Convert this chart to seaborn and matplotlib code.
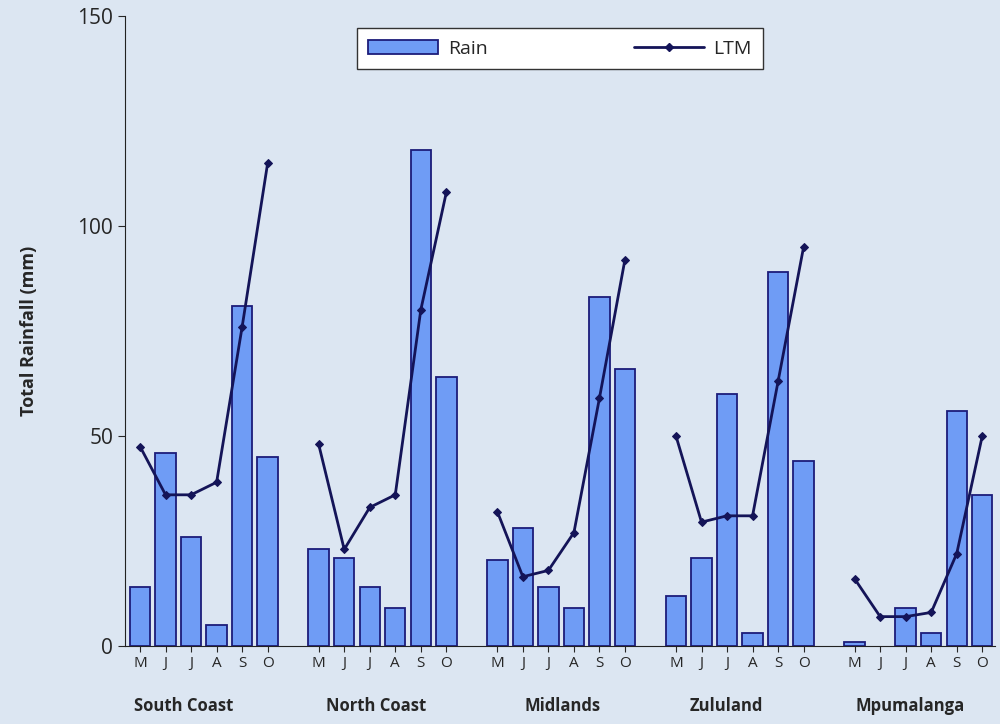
import numpy as np
import pandas as pd
import matplotlib
matplotlib.use('Agg')
import matplotlib.pyplot as plt
from matplotlib.lines import Line2D
from matplotlib.patches import Patch
from matplotlib.transforms import blended_transform_factory
import seaborn as sns

regions = ['South Coast', 'North Coast', 'Midlands', 'Zululand', 'Mpumalanga']
months = ['M', 'J', 'J', 'A', 'S', 'O']
rain = [
    [14, 46, 26, 5, 81, 45],
    [23, 21, 14, 9, 118, 64],
    [20.5, 28, 14, 9, 83, 66],
    [12, 21, 60, 3, 89, 44],
    [1, 0, 9, 3, 56, 36],
]
ltm = [
    [47.5, 36, 36, 39, 76, 115],
    [48, 23, 33, 36, 80, 108],
    [32, 16.5, 18, 27, 59, 92],
    [50, 29.5, 31, 31, 63, 95],
    [16, 7, 7, 8, 22, 50],
]

rows = []
for g, reg in enumerate(regions):
    for m, mon in enumerate(months):
        rows.append({'region': reg, 'month': mon, 'pos': g * 7 + m,
                     'rain': rain[g][m], 'ltm': ltm[g][m]})
df = pd.DataFrame(rows)

bg = '#dce6f2'
bar_c = '#6f9cf5'
edge_c = '#1c1c7a'
line_c = '#141458'

sns.set_style('white')
plt.rcParams['font.family'] = ['Open Sans', 'DejaVu Sans']

fig = plt.figure(figsize=(10, 7.24), dpi=100, facecolor=bg)
ax = fig.add_axes([0.125, 0.1077, 0.87, 0.8702])
ax.set_facecolor(bg)

sns.barplot(data=df, x='pos', y='rain', native_scale=True, width=0.8,
            color=bar_c, edgecolor=edge_c, linewidth=1.3, saturation=1, ax=ax)
for p in ax.patches:
    if p.get_height() == 0:
        p.set_visible(False)
for reg in regions:
    sns.lineplot(data=df[df.region == reg], x='pos', y='ltm', color=line_c,
                 marker='D', markersize=4.5, markeredgecolor=line_c,
                 linewidth=2, ax=ax)

ax.set_xlim(-0.59, 33.5)
ax.set_ylim(0, 150)
ax.set_yticks([0, 50, 100, 150])
ax.tick_params(axis='y', labelsize=15, length=5, direction='out', left=True)
ax.set_xticks(df['pos'])
ax.set_xticklabels(df['month'], fontsize=11)
ax.tick_params(axis='x', length=4, direction='out', bottom=True, pad=3)
ax.set_xlabel('')
ax.set_ylabel('Total Rainfall (mm)', fontsize=13, fontweight='bold', labelpad=28)
for s in ['top', 'right']:
    ax.spines[s].set_visible(False)
for s in ['left', 'bottom']:
    ax.spines[s].set_color('#222222')

tr = blended_transform_factory(ax.transData, ax.transAxes)
label_pos = [1.7, 9.25, 16.55, 22.97, 30.17]
for reg, xp in zip(regions, label_pos):
    ax.text(xp, -0.095, reg, transform=tr, ha='center', va='center',
            fontsize=12, fontweight='bold')

handles = [Patch(facecolor=bar_c, edgecolor=edge_c, linewidth=1.3),
           Line2D([], [], color=line_c, marker='D', markersize=4.5, linewidth=2)]
leg = ax.legend(handles, ['Rain', 'LTM'], loc='upper center', bbox_to_anchor=(0.5, 0.981),
                ncol=2, fontsize=14, frameon=True, fancybox=False, columnspacing=7.5,
                handlelength=3.6, handletextpad=0.5, borderpad=0.6, borderaxespad=0)
leg.get_frame().set_edgecolor('#333333')
leg.get_frame().set_facecolor('white')
leg.get_frame().set_alpha(1)

fig.savefig('out.png', dpi=100, facecolor=bg)
